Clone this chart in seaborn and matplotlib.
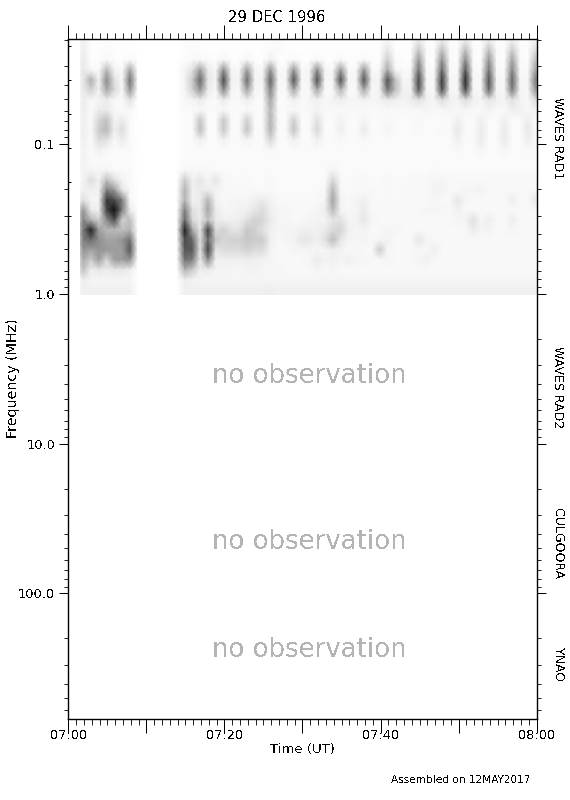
import numpy as np
import matplotlib
matplotlib.use("Agg")
import matplotlib.pyplot as plt
from matplotlib.ticker import FixedLocator, LogLocator, NullFormatter
import seaborn as sns

# darkness 0-100, one row per frequency step, one value per minute
gap = [0] * 6
rows = [
    [0,6,1,1,1,1,1,1]+gap+[1,1,1,1,1,1, 1,1,1,1,1,1,2,1,1,1, 1,1,1,1,1,1,1,1,1,1, 3,1,1,1,8,1,1,8,1,1, 8,1,1,7,1,1,6,1,1,5,1],
    [0,7,1,1,2,1,1,1]+gap+[1,2,1,1,1,1, 1,1,1,1,1,2,2,1,1,1, 1,1,1,1,1,1,1,1,1,1, 10,1,1,1,22,2,1,25,2,1, 26,2,1,24,2,1,20,2,1,14,1],
    [0,8,1,1,3,1,1,2]+gap+[1,2,3,2,1,4, 1,1,4,1,1,6,1,1,3,1, 1,3,1,1,3,1,1,3,1,1, 20,2,1,1,40,2,1,44,2,1, 46,2,1,42,2,1,36,2,1,26,1],
    [0,9,3,2,28,5,2,35]+gap+[4,12,38,8,3,45, 4,3,38,4,3,42,3,3,42,3, 4,45,4,3,40,3,3,42,3,3, 34,4,2,3,55,3,2,60,3,2, 66,3,2,54,3,2,48,3,2,36,2],
    [0,9,32,5,45,12,3,55]+gap+[5,20,60,10,4,72, 5,4,58,5,4,62,4,4,68,4, 4,70,4,4,70,4,4,68,4,5, 68,25,4,5,72,4,3,78,4,3, 85,4,3,68,4,3,60,4,3,52,3],
    [0,8,18,5,35,15,3,42]+gap+[4,18,42,8,3,48, 4,3,36,4,3,48,3,3,35,3, 3,35,3,3,30,3,3,35,3,5, 55,25,6,5,65,4,3,70,4,3, 72,4,3,60,4,3,52,4,3,42,3],
    [0,7,3,4,8,3,2,12]+gap+[3,4,8,3,2,8, 3,2,7,2,2,35,2,2,6,2, 4,6,3,5,6,4,4,5,4,5, 8,6,5,7,12,6,4,14,6,4, 14,6,4,10,6,4,12,5,3,14,3],
    [0,7,2,8,8,3,2,3]+gap+[2,2,3,2,2,3, 2,2,3,2,2,28,2,2,3,2, 3,5,3,3,3,3,3,3,2,3, 3,3,3,3,3,4,3,3,4,3, 4,3,3,5,3,3,7,6,3,5,2],
    [0,7,2,16,24,5,8,2]+gap+[2,2,22,2,2,22, 2,2,18,2,2,30,2,2,18,2, 2,12,2,2,5,2,2,4,2,2, 3,2,2,2,3,2,2,2,2,6, 2,2,6,2,2,6,2,2,7,2,2],
    [0,7,2,20,28,6,14,2]+gap+[2,2,26,2,2,22, 2,2,24,2,2,30,2,2,24,2, 2,16,2,2,7,2,2,8,2,2, 4,2,2,2,3,2,2,3,2,9, 2,2,8,2,2,8,2,2,9,2,2],
    [0,6,2,14,12,3,8,2]+gap+[2,2,6,2,2,6, 2,2,5,2,2,16,2,2,6,2, 2,6,2,2,3,2,2,3,2,2, 2,2,2,2,2,2,2,2,2,6, 2,2,8,2,2,8,2,2,7,2,2],
    [0,5,2,6,3,2,2,2]+gap+[2,2,2,2,2,2, 2,2,2,2,2,3,2,2,2,2, 2,2,2,2,2,2,2,2,2,2, 2,2,2,2,2,2,2,2,2,3, 2,2,4,2,2,4,2,2,3,2,2],
    [0,5,2,2,2,2,2,2]+gap+[2,2,2,2,2,2, 2,2,2,2,2,2,2,2,2,2, 2,2,2,2,2,2,2,2,2,2, 2,2,2,2,2,2,2,2,2,2, 2,2,2,2,2,2,2,2,2,2,2],
    [0,5,4,3,4,2,2,2]+gap+[3,3,3,3,2,2, 2,2,2,2,2,2,2,2,2,2, 2,2,2,4,2,2,2,2,2,2, 2,2,2,2,2,2,3,2,2,2, 2,2,2,2,2,2,2,2,2,2,2],
    [0,5,14,5,25,12,5,2]+gap+[20,6,10,4,10,3, 3,2,3,2,2,3,2,2,2,2, 2,2,2,16,3,2,3,3,2,2, 3,2,2,3,3,3,4,4,3,3, 3,3,3,3,3,3,3,3,3,3,2],
    [0,6,6,5,50,40,10,3]+gap+[30,6,8,7,5,3, 3,3,3,3,2,3,2,2,2,2, 2,3,3,28,3,2,3,3,3,2, 3,2,3,3,3,3,5,5,3,3, 4,4,5,3,3,3,3,3,3,3,3],
    [0,12,4,4,78,70,50,3]+gap+[30,5,8,28,5,3, 4,4,4,6,8,5,3,3,3,3, 3,3,4,36,5,3,5,6,3,3, 3,3,3,3,3,3,4,3,3,9, 4,3,3,3,3,3,7,3,3,9,3],
    [0,40,8,6,72,95,50,8]+gap+[50,12,8,35,8,4, 4,5,6,10,14,6,4,4,3,3, 3,4,7,28,5,3,4,8,3,3, 3,3,3,3,3,4,4,4,3,6, 3,3,3,3,3,3,3,3,3,3,3],
    [0,48,30,18,45,70,18,25]+gap+[60,15,8,25,8,6, 6,7,12,18,16,8,4,4,3,3, 4,5,5,10,11,5,5,10,4,3, 3,3,3,3,3,3,3,3,3,4, 5,12,4,7,3,3,7,3,3,3,3],
    [0,52,88,38,28,28,25,30]+gap+[88,35,10,75,14,18, 11,11,22,18,12,6,4,5,4,6, 6,6,8,15,17,6,4,5,3,3, 4,4,3,3,3,3,3,3,3,3, 3,8,4,5,3,3,4,3,3,3,3],
    [0,50,58,44,36,36,42,56]+gap+[70,60,12,60,22,16, 18,18,22,20,20,6,3,4,5,10, 9,6,12,26,10,4,4,4,3,4, 5,3,3,3,10,4,3,3,3,3, 3,3,3,3,3,3,3,3,3,3,3],
    [0,42,36,42,40,38,38,66]+gap+[65,65,10,75,10,14, 14,14,18,14,14,5,3,3,4,4, 4,4,4,6,5,3,4,3,3,20, 4,3,3,3,4,3,7,3,3,3, 3,3,3,3,3,3,3,3,3,3,3],
    [0,32,20,38,16,38,38,42]+gap+[55,50,8,45,6,6, 6,6,7,6,5,4,3,3,3,3, 4,8,5,6,4,6,4,4,3,3, 4,3,3,3,4,6,3,3,3,3, 3,3,3,3,3,3,3,3,3,3,3],
    [0,24,7,9,7,9,9,7]+gap+[30,20,6,8,4,5, 4,4,5,5,4,4,4,3,3,3, 3,4,3,4,3,3,3,3,3,3, 3,3,3,3,3,3,3,3,3,3, 3,3,3,3,3,3,3,3,3,3,3],
    [0,7,4,4,4,4,4,4]+gap+[7,5,4,4,4,4, 4,4,4,4,4,4,4,4,4,4, 4,4,4,4,4,4,4,4,4,4, 4,4,4,4,4,4,4,4,4,4, 4,4,4,4,4,4,4,4,4,4,4],
    [0,6,6,6,6,6,6,6]+gap+[6,6,6,6,6,6, 6,6,6,6,6,7,6,6,6,6, 6,6,6,6,6,6,6,6,6,6, 6,6,6,6,6,6,6,6,6,6, 6,6,6,6,6,6,6,6,6,6,6],
    [0,6,6,6,6,6,6,6]+gap+[6,6,6,6,6,6, 6,6,6,6,6,7,6,6,6,6, 6,6,6,6,6,6,6,6,6,6, 6,6,6,6,6,6,6,6,6,6, 6,6,6,6,6,6,6,6,6,6,6],
]

time_ticks = [0, 10, 20, 30, 40, 50, 60]
time_labels = ["07:00", "", "07:20", "", "07:40", "", "08:00"]
freq_ticks = [0.1, 1.0, 10.0, 100.0]
freq_labels = ["0.1", "1.0", "10.0", "100.0"]
freq_lim = (690, 0.0198)
band_names = ["WAVES RAD1", "WAVES RAD2", "CULGOORA", "YNAO"]
band_y = [138, 387, 544, 665]
no_obs_y = [376, 542, 650]

W, H = 570, 800


def px(x, y):
    return x / W, 1 - y / H


sns.set_theme(style="ticks")
plt.rcParams["font.family"] = ["DejaVu Sans"]
plt.rcParams["text.antialiased"] = False

fig = plt.figure(figsize=(W / 100, H / 100), dpi=100, facecolor="white")

# spectrogram sits under the frame, nodes every 7.8 px in x and 10 px in y
img = fig.add_axes([80 / W, 1 - 295 / H, 456.7 / W, 255 / H])
sns.heatmap(np.array(rows, dtype=float), ax=img, cmap="gray_r", vmin=0, vmax=100,
            cbar=False, xticklabels=False, yticklabels=False, shading="gouraud")
img.set_xlim(0.59, 59.14)
img.set_ylim(25.5, 0)
img.axis("off")

ax = fig.add_axes([68.3 / W, 1 - 719 / H, 468.4 / W, 680 / H], zorder=2)
ax.patch.set_alpha(0)
ax.set_xlim(0, 60)
ax.set_yscale("log")
ax.set_ylim(*freq_lim)

ax.set_xticks(time_ticks)
ax.set_xticklabels(time_labels)
ax.xaxis.set_minor_locator(FixedLocator(list(range(61))))
ax.set_yticks(freq_ticks)
ax.set_yticklabels(freq_labels)
ax.yaxis.set_minor_locator(LogLocator(base=10, subs=range(2, 10), numticks=12))
ax.yaxis.set_minor_formatter(NullFormatter())

ax.tick_params(axis="x", which="major", top=True, direction="out", length=10, width=0.72,
               labelsize=9.3, pad=-3, colors="black")
ax.tick_params(axis="x", which="minor", top=True, direction="out", length=4.6, width=0.72)
ax.tick_params(axis="y", which="major", right=True, direction="out", length=6.5, width=0.72,
               labelsize=9.3, pad=3, colors="black")
ax.tick_params(axis="y", which="minor", right=True, direction="out", length=2.9, width=0.72)
for side in ax.spines.values():
    side.set_linewidth(1.0)
    side.set_color("black")

# short inner ticks on the left axis, every 34 px
for y in range(73, 652, 34):
    f = 10 ** (-1 + (144.3 - y) / 149.67)
    ax.plot([0, 3 / 468.4], [f, f], transform=ax.get_yaxis_transform(), color="black",
            lw=0.72, solid_capstyle="butt")

fig.text(*px(277, 18), "29 DEC 1996", ha="center", va="center", fontsize=10.7, color="black")
fig.text(*px(302, 750), "Time (UT)", ha="center", va="center", fontsize=9.5, color="black")
fig.text(*px(13, 378), "Frequency (MHz)", ha="center", va="center", rotation=90, fontsize=10.3, color="black")
fig.text(*px(461, 780), "Assembled on 12MAY2017", ha="center", va="center", fontsize=7.6, color="black")

for name, y in zip(band_names, band_y):
    fig.text(*px(558, y), name, ha="center", va="center", rotation=-90, fontsize=9, color="black")
for y in no_obs_y:
    fig.text(*px(309, y), "no observation", ha="center", va="center", fontsize=18.7, color="#b4b4b4")

fig.savefig("out.png", dpi=100, facecolor="white")
